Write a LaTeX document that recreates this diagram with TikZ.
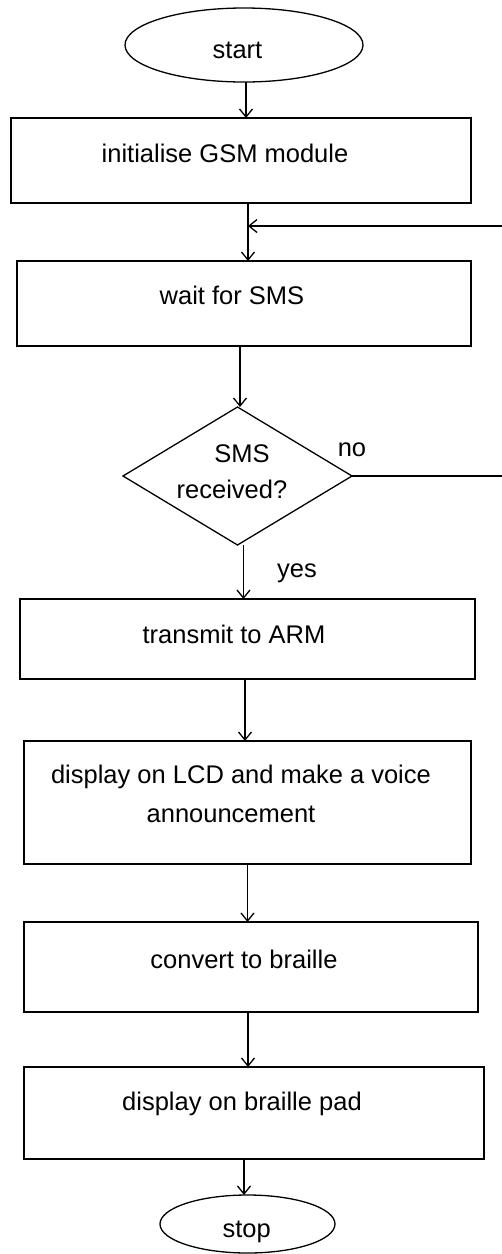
\documentclass[tikz,border=0pt]{standalone}
\usepackage{fontspec}
\setmainfont{Liberation Sans}
\usetikzlibrary{arrows.meta,shapes.geometric,calc}
\begin{document}
\begin{tikzpicture}[x=1pt,y=-1pt,
  every node/.style={inner sep=0pt, outer sep=0pt},
  box/.style={draw, line width=1.5pt, rectangle},
  term/.style={draw, line width=1.3pt, ellipse},
  dec/.style={draw, line width=1.3pt, diamond},
  txt/.style={anchor=base, font=\fontsize{25.5}{30}\selectfont},
  arr/.style={line width=1.4pt, -{Straight Barb[length=8pt,width=13pt,line width=1.3pt]}},
  ln/.style={line width=1.4pt}]
\useasboundingbox (0,0) rectangle (502,1254);
\fill[white] (0,0) rectangle (502,1254);

% shapes
\node[term, minimum width=238, minimum height=74] (st) at (244,45) {};
\node[box, minimum width=460, minimum height=85] (b1) at (241,160.5) {};
\node[box, minimum width=454, minimum height=85] (b2) at (244,303.5) {};
\node[dec, minimum width=229, minimum height=138] (dc) at (237.5,476) {};
\node[box, minimum width=455, minimum height=80] (b3) at (247.5,639) {};
\node[box, minimum width=447, minimum height=123] (b4) at (247.5,802.5) {};
\node[box, minimum width=454, minimum height=90] (b5) at (251,967) {};
\node[box, minimum width=460, minimum height=92] (b6) at (254,1113) {};
\node[term, minimum width=175, minimum height=58] (sp) at (247.5,1224) {};

% texts
\node[txt] (tst) at (237.5,58) {start};
\node[txt] (tb1) at (225,162) {initialise GSM module};
\node[txt] (tb2) at (232,304) {wait for SMS};
\node[txt] (tdc1) at (242,462) {SMS};
\node[txt] (tdc2) at (232,498) {received?};
\node[txt] (tno) at (352,456) {no};
\node[txt] (tyes) at (297,577) {yes};
\node[txt] (tb3) at (234,643) {transmit to ARM};
\node[txt] (tb4a) at (241,783) {display on LCD and make a voice};
\node[txt] (tb4b) at (231,822) {announcement};
\node[txt] (tb5) at (244,968) {convert to braille};
\node[txt] (tb6) at (242,1110) {display on braille pad};
\node[txt] (tsp) at (246.7,1237) {stop};

% connectors
\coordinate (jn) at (248,226);
\coordinate (fbR) at (502,226);
\draw[arr] ([xshift=2]st.south) -- ([xshift=2]st.south |- b1.north);
\draw[arr] ([xshift=7]b1.south) -- ([xshift=7]b1.south |- b2.north);
\draw[arr] (fbR) -- (jn);
\draw[ln] (dc.east) -- (dc.east -| fbR);
\draw[arr] ([xshift=-4]b2.south) -- ([xshift=-4]b2.south |- dc.north);
\draw[arr] ([xshift=6]dc.south) -- ([xshift=6]dc.south |- b3.north);
\draw[arr] ([xshift=-2.5]b3.south) -- ([xshift=-2.5]b3.south |- b4.north);
\draw[arr] (b4.south) -- (b4.south |- b5.north);
\draw[arr] ([xshift=-3]b5.south) -- ([xshift=-3]b5.south |- b6.north);
\draw[arr] ([xshift=-10]b6.south) -- ([xshift=-10]b6.south |- sp.north);
\end{tikzpicture}
\end{document}
